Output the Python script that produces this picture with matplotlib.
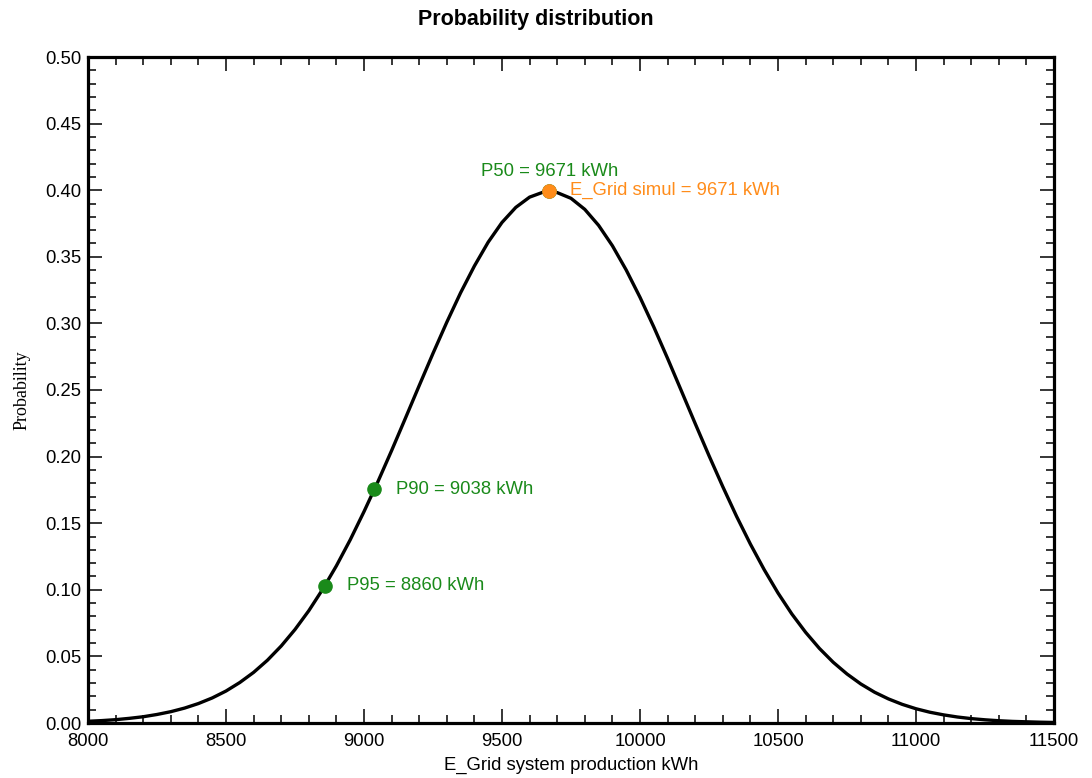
"""
Probability distribution of the grid production (P50 / P90 / P95)
"""
import matplotlib
matplotlib.use("Agg")
import matplotlib.pyplot as plt
from matplotlib.ticker import MultipleLocator

# curve (kWh, probability density scaled)
energy = [8000, 8050, 8100, 8150, 8200, 8250, 8300, 8350, 8400, 8450,
          8500, 8550, 8600, 8650, 8700, 8750, 8800, 8850, 8900, 8950,
          9000, 9050, 9100, 9150, 9200, 9250, 9300, 9350, 9400, 9450,
          9500, 9550, 9600, 9650, 9700, 9750, 9800, 9850, 9900, 9950,
          10000, 10050, 10100, 10150, 10200, 10250, 10300, 10350, 10400,
          10450, 10500, 10550, 10600, 10650, 10700, 10750, 10800, 10850,
          10900, 10950, 11000, 11050, 11100, 11150, 11200, 11250, 11300,
          11350, 11400, 11450, 11500]
prob = [0.0013, 0.0018, 0.0025, 0.0035, 0.0047, 0.0064, 0.0085, 0.0112,
        0.0146, 0.0188, 0.0240, 0.0304, 0.0380, 0.0471, 0.0578, 0.0702,
        0.0843, 0.1003, 0.1180, 0.1375, 0.1587, 0.1810, 0.2045, 0.2288,
        0.2533, 0.2775, 0.3009, 0.3230, 0.3431, 0.3610, 0.3758, 0.3871,
        0.3948, 0.3986, 0.3982, 0.3939, 0.3856, 0.3736, 0.3583, 0.3401,
        0.3196, 0.2973, 0.2737, 0.2493, 0.2248, 0.2007, 0.1774, 0.1551,
        0.1343, 0.1151, 0.0976, 0.0819, 0.0681, 0.0560, 0.0456, 0.0368,
        0.0293, 0.0231, 0.0181, 0.0140, 0.0107, 0.0081, 0.0061, 0.0045,
        0.0033, 0.0024, 0.0017, 0.0012, 0.0009, 0.0006, 0.0004]

# marked points
p_names = ['P50', 'P90', 'P95']
p_energy = [9671, 9038, 8860]
p_prob = [0.3995, 0.1755, 0.1031]
simul_energy = 9671
simul_prob = 0.3995

GREEN = '#1a8a1a'
ORANGE = '#ff8c1a'

plt.rcParams['font.family'] = ['Liberation Sans', 'DejaVu Sans']

fig = plt.figure(figsize=(10.92, 7.78), dpi=100)
ax = fig.add_axes([88 / 1092, 55 / 778, 966 / 1092, 666 / 778])

ax.plot(energy, prob, color='black', lw=2.4, zorder=2)

# P markers (green) then simulated value (orange) on top
for name, e, p in zip(p_names, p_energy, p_prob):
    ax.plot(e, p, 'o', color=GREEN, ms=9.5, zorder=3)
    if name == 'P50':
        ax.annotate(f"{name} = {e} kWh", (e, p), xytext=(0, 8),
                    textcoords='offset points', ha='center', va='bottom',
                    color=GREEN, fontsize=13.3)
    else:
        ax.annotate(f"{name} = {e} kWh", (e, p), xytext=(15.5, 0),
                    textcoords='offset points', ha='left', va='center',
                    color=GREEN, fontsize=13.3)

ax.plot(simul_energy, simul_prob, 'o', color=ORANGE, ms=9.5, zorder=4)
ax.annotate(f"E_Grid simul = {simul_energy} kWh", (simul_energy, simul_prob),
            xytext=(15, 0), textcoords='offset points', ha='left',
            va='center', color=ORANGE, fontsize=13.3)

ax.set_xlim(8000, 11500)
ax.set_ylim(0, 0.5)
ax.xaxis.set_major_locator(MultipleLocator(500))
ax.xaxis.set_minor_locator(MultipleLocator(100))
ax.yaxis.set_major_locator(MultipleLocator(0.05))
ax.yaxis.set_minor_locator(MultipleLocator(0.01))
ax.yaxis.set_major_formatter(plt.FormatStrFormatter('%.2f'))

ax.tick_params(which='both', direction='in', top=True, right=True,
               labelsize=13.3, width=1.1, colors='black')
ax.tick_params(which='major', length=10, pad=5)
ax.tick_params(which='minor', length=5.5)
ax.tick_params(axis='x', which='major', pad=7)
for sp in ax.spines.values():
    sp.set_linewidth(2.3)

# title sits a bit left of the axes centre in the original
fig.text(536 / 1092, 1 - 20 / 778, 'Probability distribution',
         fontsize=15.5, fontweight='bold', ha='center', va='center')
ax.set_xlabel('E_Grid system production kWh', fontsize=13.3, labelpad=5)
ax.set_ylabel('Probability', fontsize=13, family='Liberation Serif',
              labelpad=10)

fig.savefig('out.png', dpi=100)
